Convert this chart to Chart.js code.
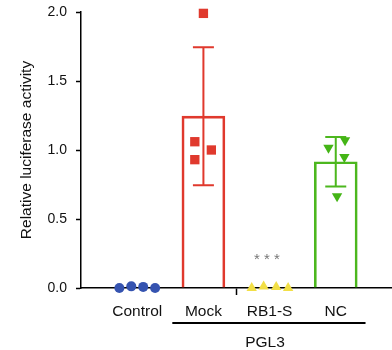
<!DOCTYPE html>
<html>
<head>
<meta charset="utf-8">
<script src="https://cdn.jsdelivr.net/npm/chart.js@4"></script>
<style>
  html, body { margin: 0; padding: 0; background: #fff; }
  #wrap { width: 392px; height: 350px; }
</style>
</head>
<body>
<div id="wrap"><canvas id="chart"></canvas></div>
<script>
// Data
const categories = ['Control', 'Mock', 'RB1-S', 'NC'];
const groupLabel = 'PGL3';
const means = [0, 1.245, 0, 0.915];
const sds = [0, 0.5, 0, 0.18];
const yTicks = [0, 0.5, 1.0, 1.5, 2.0];

// individual replicates (x = group index + jitter)
const controlX = [-0.27, -0.09, 0.09, 0.27];
const controlY = [0, 0.012, 0.008, 0];
const mockX = [1.0, 0.87, 1.12, 0.87];
const mockY = [1.99, 1.06, 1.0, 0.93];
const rb1sX = [1.73, 1.91, 2.1, 2.28];
const rb1sY = [0, 0.01, 0.008, 0];
const ncX = [2.89, 3.14, 3.13, 3.02];
const ncY = [1.016, 1.07, 0.95, 0.665];

const colors = ['#3553b0', '#e0392d', '#f2df46', '#4cb71e'];
const FONT = 'Liberation Sans, Arial, sans-serif';

function pts(xs, ys) {
  return xs.map((x, i) => ({ x: x, y: ys[i] }));
}

// error bars + annotations
const extras = {
  id: 'extras',
  beforeDatasetsDraw(chart) {
    const { ctx, scales: { x, y } } = chart;
    ctx.save();
    ctx.lineWidth = 2;
    means.forEach((m, i) => {
      if (!sds[i]) return;
      const cx = x.getPixelForValue(i);
      const half = 10.5;
      const top = y.getPixelForValue(m + sds[i]);
      const bot = y.getPixelForValue(m - sds[i]);
      ctx.strokeStyle = colors[i];
      ctx.beginPath();
      ctx.moveTo(cx, top); ctx.lineTo(cx, bot);
      ctx.moveTo(cx - half, top); ctx.lineTo(cx + half, top);
      ctx.moveTo(cx - half, bot); ctx.lineTo(cx + half, bot);
      ctx.stroke();
    });
    ctx.restore();
  },
  afterDraw(chart) {
    const { ctx, chartArea, scales: { x, y } } = chart;
    ctx.save();
    // significance stars
    ctx.fillStyle = '#777';
    ctx.font = '15px ' + FONT;
    ctx.textAlign = 'center';
    ctx.textBaseline = 'alphabetic';
    ctx.fillText('* * *', x.getPixelForValue(1.96), y.getPixelForValue(0.175));
    // PGL3 group line
    const ly = chartArea.bottom + 35;
    ctx.strokeStyle = '#000';
    ctx.lineWidth = 2;
    ctx.beginPath();
    ctx.moveTo(x.getPixelForValue(0.53), ly);
    ctx.lineTo(x.getPixelForValue(3.45), ly);
    ctx.stroke();
    ctx.fillStyle = '#111';
    ctx.font = '15.5px ' + FONT;
    ctx.textBaseline = 'middle';
    ctx.fillText(groupLabel, x.getPixelForValue(1.93), chartArea.bottom + 55);
    ctx.restore();
  }
};

new Chart(document.getElementById('chart'), {
  type: 'bar',
  data: {
    datasets: [
      { type: 'scatter', data: pts(controlX, controlY), pointStyle: 'circle', pointRadius: 5,
        backgroundColor: colors[0], borderWidth: 0, clip: false },
      { type: 'scatter', data: pts(mockX, mockY), pointStyle: 'rect', pointRadius: 6.6,
        backgroundColor: colors[1], borderWidth: 0, clip: false },
      { type: 'scatter', data: pts(rb1sX, rb1sY), pointStyle: 'triangle', pointRadius: 6,
        backgroundColor: colors[2], borderWidth: 0, clip: false },
      { type: 'scatter', data: pts(ncX, ncY), pointStyle: 'triangle', pointRotation: 180, pointRadius: 6,
        backgroundColor: '#44b516', borderWidth: 0, clip: false },
      { type: 'bar', data: means.map((m, i) => ({ x: i, y: m })),
        backgroundColor: 'rgba(0,0,0,0)', borderColor: colors, borderWidth: 2,
        barThickness: 43, clip: false }
    ]
  },
  options: {
    responsive: true,
    maintainAspectRatio: false,
    animation: false,
    layout: { autoPadding: false, padding: { top: 12, right: 0, left: 0, bottom: 0 } },
    plugins: { legend: { display: false }, tooltip: { enabled: false } },
    scales: {
      x: {
        type: 'linear',
        min: -0.85,
        max: 3.85,
        offset: false,
        afterBuildTicks(scale) {
          scale.ticks = [0, 1, 1.5, 2, 3].map(v => ({ value: v }));
        },
        afterFit(scale) {
          scale.height = 62;
          scale.paddingLeft = 0;
          scale.paddingRight = 0;
        },
        border: { color: '#000', width: 1.5 },
        grid: {
          offset: false,
          drawOnChartArea: false,
          tickLength: 7,
          tickWidth: 1.5,
          tickColor: c => (c.tick && c.tick.value === 1.5 ? '#000' : 'rgba(0,0,0,0)')
        },
        ticks: {
          autoSkip: false,
          maxRotation: 0,
          padding: 7,
          color: '#111',
          font: { size: 15.5, family: FONT },
          callback: v => (Number.isInteger(v) ? categories[v] : '')
        }
      },
      y: {
        min: 0,
        max: 2,
        afterBuildTicks(scale) {
          scale.ticks = yTicks.map(v => ({ value: v }));
        },
        afterFit(scale) {
          scale.width = 81;
          scale.paddingTop = 0;
          scale.paddingBottom = 0;
        },
        border: { color: '#000', width: 1.5 },
        grid: { drawOnChartArea: false, tickLength: 5, tickWidth: 1.5, tickColor: '#000' },
        ticks: {
          padding: 9,
          color: '#111',
          font: { size: 14, family: FONT },
          callback: v => v.toFixed(1)
        },
        title: {
          display: true,
          text: 'Relative luciferase activity',
          color: '#111',
          font: { size: 15.5, family: FONT },
          padding: { top: 17, bottom: 0 }
        }
      }
    }
  },
  plugins: [extras]
});
</script>
</body>
</html>
